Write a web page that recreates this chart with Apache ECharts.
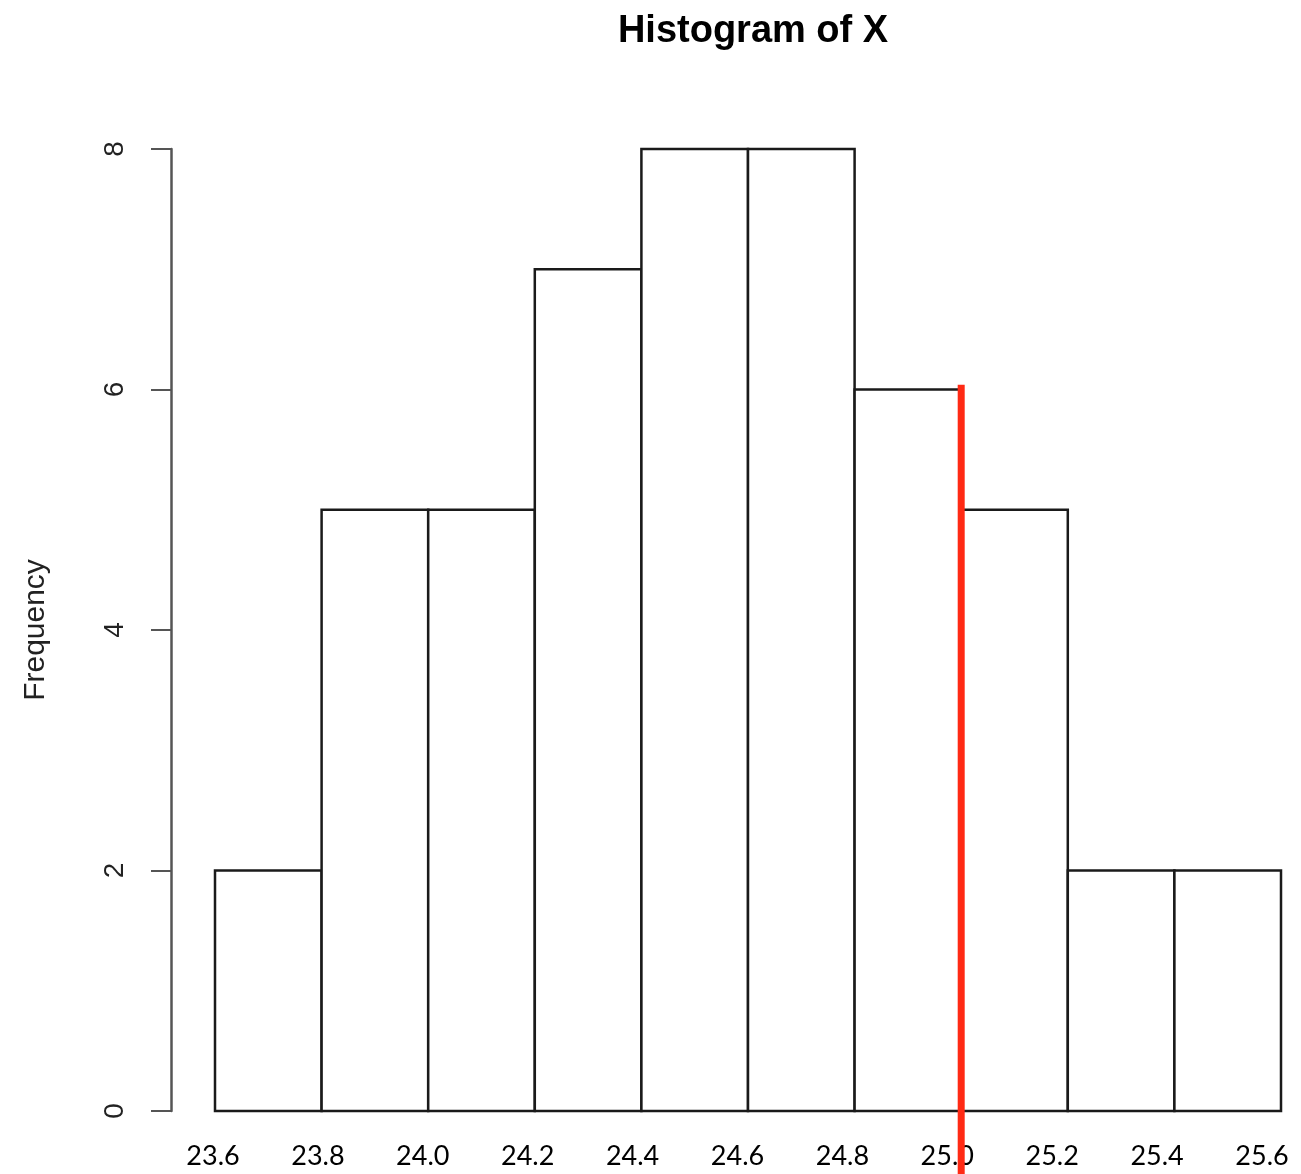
<!DOCTYPE html>
<html>
<head>
<meta charset="utf-8">
<script src="https://cdn.jsdelivr.net/npm/echarts@6/dist/echarts.min.js"></script>
<style>html,body{margin:0;padding:0;background:#fff;}#c{width:1301px;height:1174px;}</style>
</head>
<body>
<div id="c"></div>
<script>
const binEdges = [23.6, 23.8, 24.0, 24.2, 24.4, 24.6, 24.8, 25.0, 25.2, 25.4, 25.6];
const counts = [2, 5, 5, 7, 8, 8, 6, 5, 2, 2];
const xTicks = [23.6, 23.8, 24.0, 24.2, 24.4, 24.6, 24.8, 25.0, 25.2, 25.4, 25.6];
const yTicks = [0, 2, 4, 6, 8];
const refLineX = 25.0;
const refLineTop = 6.04;
const refLineBottom = -0.6;

const barData = counts.map((c, i) => [binEdges[i], binEdges[i + 1], c]);

const chart = echarts.init(document.getElementById('c'), null, {renderer: 'canvas'});
chart.setOption({
  backgroundColor: '#ffffff',
  animation: false,
  title: {
    text: 'Histogram of X',
    left: 748, top: 8, textAlign: 'center',
    textStyle: {fontFamily: '"Liberation Sans Narrow", "Liberation Sans", Arial, sans-serif', fontWeight: 'bold', fontSize: 38, color: '#000'}
  },
  grid: [
    {left: 215, right: 20, top: 149, bottom: 63},
    {left: 213, right: 39, top: 149, bottom: 63}
  ],
  xAxis: [
    {gridIndex: 0, type: 'value', min: xTicks[0], max: xTicks[xTicks.length - 1], show: false},
    {gridIndex: 1, type: 'value', min: xTicks[0], max: xTicks[xTicks.length - 1], interval: 0.2,
     axisLine: {show: false}, axisTick: {show: false}, splitLine: {show: false},
     axisLabel: {margin: 32, fontSize: 27, color: '#000', fontFamily: 'Lato, "Open Sans", sans-serif',
       formatter: v => v.toFixed(1)}}
  ],
  yAxis: [
    {gridIndex: 0, type: 'value', min: yTicks[0], max: yTicks[yTicks.length - 1], interval: 2, offset: 44,
     name: 'Frequency', nameLocation: 'middle', nameGap: 120,
     nameTextStyle: {fontSize: 30, color: '#222', fontFamily: '"Liberation Sans", Arial, sans-serif'},
     axisLine: {show: true, lineStyle: {color: '#555', width: 2.5}},
     axisTick: {show: true, length: 20, lineStyle: {color: '#555', width: 2}},
     splitLine: {show: false},
     axisLabel: {rotate: 90, margin: 42, fontSize: 28, color: '#222', fontFamily: '"Liberation Sans", Arial, sans-serif'}},
    {gridIndex: 1, type: 'value', min: 0, max: 8, show: false}
  ],
  series: [
    {
      type: 'custom', xAxisIndex: 0, yAxisIndex: 0, data: barData,
      renderItem: (params, api) => {
        const p0 = api.coord([api.value(0), api.value(2)]);
        const p1 = api.coord([api.value(1), 0]);
        return {type: 'rect', shape: {x: p0[0], y: p0[1], width: p1[0] - p0[0], height: p1[1] - p0[1]},
          style: {fill: '#fff', stroke: '#1a1a1a', lineWidth: 2.5}};
      }
    },
    {
      type: 'custom', xAxisIndex: 0, yAxisIndex: 0, clip: false, z: 5,
      data: [[refLineX, refLineTop, refLineBottom]],
      renderItem: (params, api) => {
        const a = api.coord([api.value(0), api.value(1)]);
        const b = api.coord([api.value(0), api.value(2)]);
        return {type: 'line', shape: {x1: a[0], y1: a[1], x2: b[0], y2: b[1]},
          style: {stroke: '#ff2a14', lineWidth: 7}};
      }
    }
  ]
});
</script>
</body>
</html>
